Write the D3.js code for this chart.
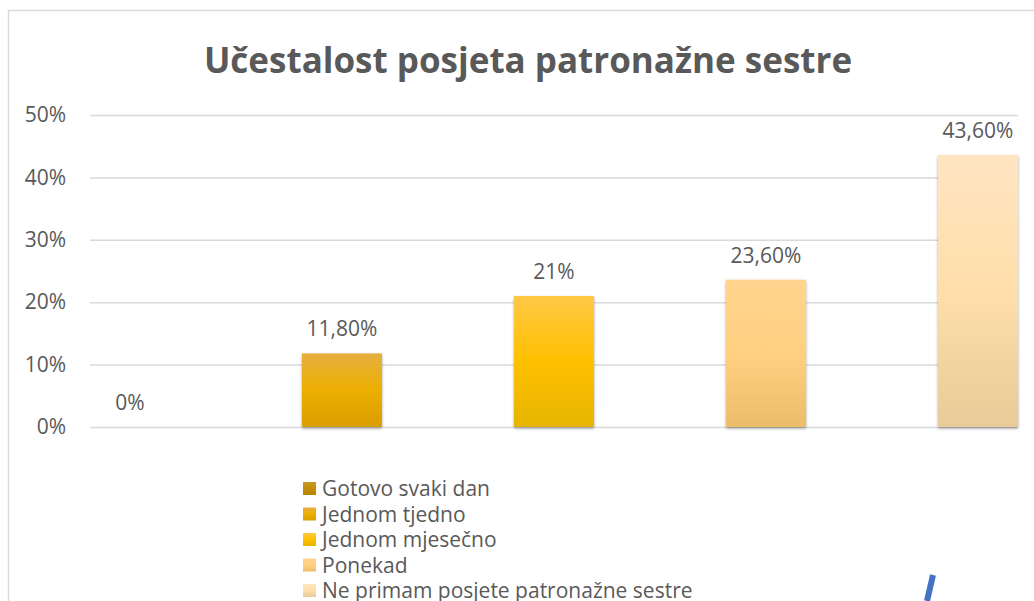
<!DOCTYPE html>
<html>
<head>
<meta charset="utf-8">
<script src="https://cdn.jsdelivr.net/npm/d3@7"></script>
<style>
  body { margin: 0; background: #fff; }
  text { font-family: "Open Sans", sans-serif; fill: #595959; }
</style>
</head>
<body>
<div class="container"></div>
<script>
// data ------------------------------------------------------------------------
var categories = ['Gotovo svaki dan', 'Jednom tjedno', 'Jednom mjesečno', 'Ponekad', 'Ne primam posjete patronažne sestre'];
var values = [0, 11.8, 21, 23.6, 43.6];
var valueLabels = ['0%', '11,80%', '21%', '23,60%', '43,60%'];
var yTicks = [0, 10, 20, 30, 40, 50];
var title = 'Učestalost posjeta patronažne sestre';

// colours: top, middle, bottom of each bar gradient
var shades = [
	['#C9972C', '#C08E08', '#B78500'],
	['#E6B040', '#ECAE00', '#DA9F00'],
	['#FFC845', '#FFC000', '#E6B400'],
	['#FFD48E', '#FFD080', '#EBBD6A'],
	['#FFE5C2', '#FFDEAA', '#E8CB98']
];

var WIDTH = 1034, HEIGHT = 601;

var appendSvg = function(width, height) {
	return d3.select('.container').append('svg')
		.attr('width', width)
		.attr('height', height);
}

var xScale = d3.scaleBand()
	.domain(categories)
	.range([90, 1018])
	.paddingInner(0.623)
	.paddingOuter(0);

var yScale = d3.scaleLinear()
	.domain([0, 50])
	.range([427, 115]);

var loadChart = function() {
	var svg = appendSvg(WIDTH, HEIGHT);
	var defs = svg.append('defs');

	shades.forEach(function(s, i) {
		var g = defs.append('linearGradient')
			.attr('id', 'grad' + i)
			.attr('x1', 0).attr('y1', 0).attr('x2', 0).attr('y2', 1);
		g.append('stop').attr('offset', '0%').attr('stop-color', s[0]);
		g.append('stop').attr('offset', '50%').attr('stop-color', s[1]);
		g.append('stop').attr('offset', '100%').attr('stop-color', s[2]);
	});

	var shadow = defs.append('filter').attr('id', 'shadow')
		.attr('x', '-20%').attr('y', '-10%').attr('width', '140%').attr('height', '130%');
	shadow.append('feDropShadow')
		.attr('dx', 0).attr('dy', 1.5).attr('stdDeviation', 1.5)
		.attr('flood-color', '#000').attr('flood-opacity', 0.35);

	// chart border
	svg.append('path')
		.attr('d', 'M8.5,' + HEIGHT + 'V10.5H' + WIDTH)
		.attr('fill', 'none')
		.attr('stroke', '#D9D9D9')
		.attr('stroke-width', 1.5);

	// title
	svg.append('text')
		.attr('x', 528)
		.attr('y', 73)
		.attr('text-anchor', 'middle')
		.style('font-size', '35px')
		.style('font-weight', 'bold')
		.text(title);

	// gridlines + y axis
	var yAxis = d3.axisLeft(yScale)
		.tickValues(yTicks)
		.tickSize(-(1018 - 90))
		.tickPadding(24)
		.tickFormat(function(d) { return d + '%'; });

	var gy = svg.append('g')
		.attr('transform', 'translate(90,0)')
		.call(yAxis);
	gy.select('.domain').remove();
	gy.selectAll('.tick line').attr('stroke', '#D9D9D9').attr('stroke-width', 1.5);
	gy.selectAll('.tick text')
		.style('font-size', '21px')
		.style('fill', '#595959')
		.style('font-family', '"Open Sans", sans-serif');

	// bars
	svg.append('g').selectAll('rect')
		.data(values)
		.enter()
		.append('rect')
		.attr('x', function(d, i) { return xScale(categories[i]); })
		.attr('y', function(d) { return yScale(d); })
		.attr('width', xScale.bandwidth())
		.attr('height', function(d) { return yScale(0) - yScale(d); })
		.attr('fill', function(d, i) { return 'url(#grad' + i + ')'; })
		.attr('filter', function(d) { return d > 0 ? 'url(#shadow)' : null; });

	// value labels
	svg.append('g').selectAll('text')
		.data(values)
		.enter()
		.append('text')
		.attr('x', function(d, i) { return xScale(categories[i]) + xScale.bandwidth() / 2; })
		.attr('y', function(d) { return yScale(d) - 17; })
		.attr('text-anchor', 'middle')
		.style('font-size', '21px')
		.text(function(d, i) { return valueLabels[i]; });

	// legend
	var legend = svg.append('g').selectAll('g')
		.data(categories)
		.enter()
		.append('g')
		.attr('transform', function(d, i) { return 'translate(303,' + (482 + i * 25.5) + ')'; });
	legend.append('rect')
		.attr('width', 13)
		.attr('height', 13)
		.attr('fill', function(d, i) { return 'url(#grad' + i + ')'; });
	legend.append('text')
		.attr('x', 19)
		.attr('y', 14)
		.style('font-size', '21px')
		.text(function(d) { return d; });

	// stray blue pen stroke
	svg.append('path')
		.attr('d', 'M933,575L927,601')
		.attr('stroke', '#4472C4')
		.attr('stroke-width', 6);
};

loadChart();
</script>
</body>
</html>
